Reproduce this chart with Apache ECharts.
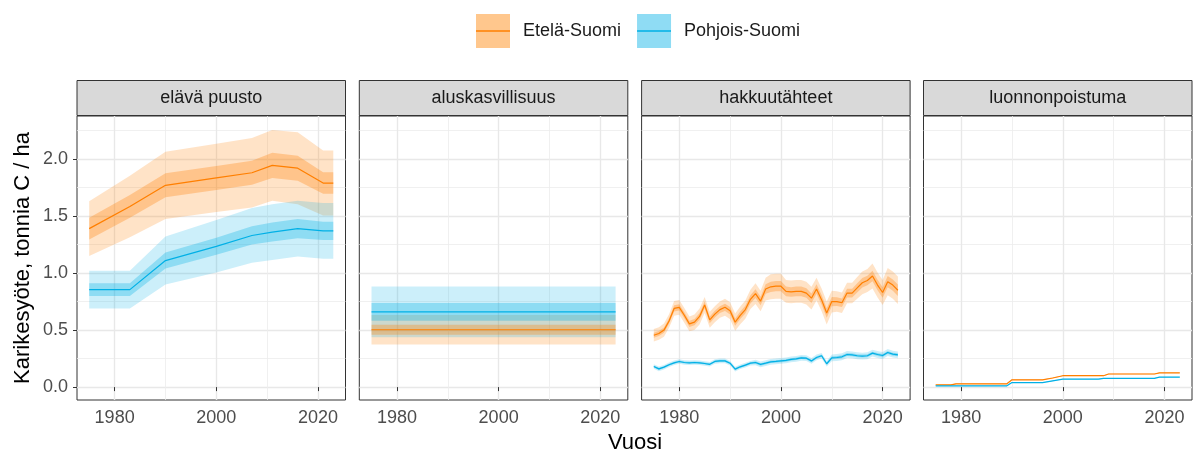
<!DOCTYPE html>
<html>
<head>
<meta charset="utf-8">
<title>Karikesyöte</title>
<script src="https://cdn.jsdelivr.net/npm/echarts@6/dist/echarts.min.js"></script>
<style>
  html, body { margin: 0; padding: 0; background: #fff; }
  #chart { width: 1194px; height: 457px; }
</style>
</head>
<body>
<div id="chart"></div>
<script>
  // paneelit ja alueet
  const panelNames = ['elävä puusto', 'aluskasvillisuus', 'hakkuutähteet', 'luonnonpoistuma'];
  const regions = ['Etelä-Suomi', 'Pohjois-Suomi'];
  const xTicks = [1980, 2000, 2020];
  const yTicks = [0, 0.5, 1, 1.5, 2];

  // elävä puusto (keskiarvo, sisempi ja ulompi puolileveys)
  const elavaYears = [1975, 1983, 1990, 2000, 2007, 2011, 2016, 2021, 2023];
  const elavaEtela = [1.39, 1.585, 1.77, 1.835, 1.88, 1.945, 1.92, 1.79, 1.79];
  const elavaEtelaInner = [0.095, 0.10, 0.105, 0.105, 0.105, 0.11, 0.11, 0.095, 0.095];
  const elavaEtelaOuter = [0.24, 0.27, 0.295, 0.30, 0.305, 0.31, 0.315, 0.285, 0.285];
  const elavaPohjois = [0.855, 0.855, 1.11, 1.235, 1.33, 1.36, 1.39, 1.37, 1.37];
  const elavaPohjoisInner = [0.055, 0.055, 0.07, 0.075, 0.08, 0.083, 0.085, 0.08, 0.08];
  const elavaPohjoisOuter = [0.165, 0.165, 0.21, 0.23, 0.24, 0.245, 0.245, 0.245, 0.245];

  // aluskasvillisuus
  const alusYears = [1975, 2023];
  const alusEtela = [0.503, 0.503];
  const alusEtelaInner = [0.043, 0.043];
  const alusEtelaOuter = [0.13, 0.13];
  const alusPohjois = [0.66, 0.66];
  const alusPohjoisInner = [0.077, 0.077];
  const alusPohjoisOuter = [0.222, 0.222];

  // hakkuutähteet
  const hakkuuYears = [1975, 1976, 1977, 1978, 1979, 1980, 1981, 1982, 1983, 1984,
    1985, 1986, 1987, 1988, 1989, 1990, 1991, 1992, 1993, 1994,
    1995, 1996, 1997, 1998, 1999, 2000, 2001, 2002, 2003, 2004,
    2005, 2006, 2007, 2008, 2009, 2010, 2011, 2012, 2013, 2014,
    2015, 2016, 2017, 2018, 2019, 2020, 2021, 2022, 2023];
  const hakkuuEtela = [0.455, 0.47, 0.50, 0.58, 0.69, 0.70, 0.63, 0.555, 0.57, 0.62,
    0.72, 0.59, 0.64, 0.68, 0.70, 0.67, 0.57, 0.63, 0.68, 0.77,
    0.82, 0.755, 0.86, 0.88, 0.885, 0.885, 0.84, 0.835, 0.84, 0.84,
    0.825, 0.78, 0.86, 0.765, 0.65, 0.75, 0.75, 0.74, 0.825, 0.825,
    0.87, 0.915, 0.935, 0.975, 0.895, 0.83, 0.925, 0.895, 0.85];
  const hakkuuEtelaInner = [0.022, 0.022, 0.024, 0.025, 0.027, 0.027, 0.027, 0.027, 0.028, 0.03,
    0.03, 0.03, 0.03, 0.03, 0.032, 0.032, 0.032, 0.033, 0.034, 0.036,
    0.038, 0.038, 0.042, 0.045, 0.045, 0.045, 0.042, 0.042, 0.042, 0.042,
    0.042, 0.042, 0.042, 0.042, 0.042, 0.04, 0.038, 0.038, 0.038, 0.038,
    0.04, 0.042, 0.042, 0.046, 0.046, 0.046, 0.05, 0.05, 0.05];
  const hakkuuEtelaOuter = [0.055, 0.055, 0.058, 0.06, 0.065, 0.065, 0.065, 0.065, 0.068, 0.07,
    0.07, 0.07, 0.07, 0.072, 0.075, 0.075, 0.075, 0.078, 0.08, 0.085,
    0.09, 0.09, 0.10, 0.11, 0.11, 0.11, 0.10, 0.10, 0.10, 0.10,
    0.10, 0.10, 0.10, 0.10, 0.10, 0.095, 0.09, 0.09, 0.09, 0.09,
    0.095, 0.10, 0.10, 0.11, 0.11, 0.11, 0.12, 0.12, 0.12];
  const hakkuuPohjois = [0.181, 0.16, 0.175, 0.196, 0.213, 0.225, 0.216, 0.213, 0.216, 0.213,
    0.207, 0.20, 0.225, 0.23, 0.23, 0.21, 0.158, 0.178, 0.193, 0.21,
    0.216, 0.199, 0.21, 0.222, 0.225, 0.23, 0.234, 0.243, 0.248, 0.257,
    0.254, 0.23, 0.26, 0.275, 0.205, 0.257, 0.26, 0.266, 0.286, 0.283,
    0.275, 0.272, 0.275, 0.298, 0.286, 0.277, 0.304, 0.289, 0.283];
  const hakkuuPohjoisInner = [0.009, 0.009, 0.009, 0.009, 0.009, 0.009, 0.009, 0.009, 0.009, 0.009,
    0.009, 0.009, 0.009, 0.009, 0.009, 0.009, 0.009, 0.009, 0.009, 0.009,
    0.011, 0.011, 0.011, 0.011, 0.011, 0.011, 0.011, 0.011, 0.011, 0.011,
    0.011, 0.011, 0.011, 0.011, 0.011, 0.013, 0.013, 0.013, 0.013, 0.013,
    0.013, 0.013, 0.013, 0.013, 0.013, 0.013, 0.013, 0.013, 0.013];
  const hakkuuPohjoisOuter = [0.02, 0.02, 0.02, 0.02, 0.02, 0.02, 0.02, 0.02, 0.02, 0.02,
    0.02, 0.02, 0.02, 0.02, 0.02, 0.02, 0.02, 0.02, 0.02, 0.02,
    0.025, 0.025, 0.025, 0.025, 0.025, 0.025, 0.025, 0.025, 0.025, 0.025,
    0.025, 0.025, 0.025, 0.025, 0.025, 0.03, 0.03, 0.03, 0.03, 0.03,
    0.03, 0.03, 0.03, 0.03, 0.03, 0.03, 0.03, 0.03, 0.03];

  // luonnonpoistuma
  const luontoYears = [1975, 1978, 1979, 1989, 1990, 1996, 1998, 2000, 2007, 2008, 2009, 2018, 2019, 2023];
  const luontoEtela = [0.02, 0.02, 0.029, 0.029, 0.064, 0.064, 0.08, 0.10, 0.10, 0.10, 0.115, 0.115, 0.125, 0.125];
  const luontoEtelaInner = [0.002, 0.002, 0.002, 0.002, 0.002, 0.002, 0.002, 0.002, 0.002, 0.002, 0.002, 0.002, 0.002, 0.002];
  const luontoEtelaOuter = [0.004, 0.004, 0.004, 0.004, 0.004, 0.004, 0.004, 0.004, 0.004, 0.004, 0.004, 0.004, 0.004, 0.004];
  const luontoPohjois = [0.011, 0.011, 0.011, 0.011, 0.04, 0.04, 0.055, 0.07, 0.07, 0.076, 0.076, 0.076, 0.087, 0.087];
  const luontoPohjoisInner = [0.001, 0.001, 0.001, 0.001, 0.001, 0.001, 0.001, 0.001, 0.001, 0.001, 0.001, 0.001, 0.001, 0.001];
  const luontoPohjoisOuter = [0.003, 0.003, 0.003, 0.003, 0.003, 0.003, 0.003, 0.003, 0.003, 0.003, 0.003, 0.003, 0.003, 0.003];

  const panels = [
    { years: elavaYears, data: [[elavaEtela, elavaEtelaInner, elavaEtelaOuter], [elavaPohjois, elavaPohjoisInner, elavaPohjoisOuter]] },
    { years: alusYears, data: [[alusEtela, alusEtelaInner, alusEtelaOuter], [alusPohjois, alusPohjoisInner, alusPohjoisOuter]] },
    { years: hakkuuYears, data: [[hakkuuEtela, hakkuuEtelaInner, hakkuuEtelaOuter], [hakkuuPohjois, hakkuuPohjoisInner, hakkuuPohjoisOuter]] },
    { years: luontoYears, data: [[luontoEtela, luontoEtelaInner, luontoEtelaOuter], [luontoPohjois, luontoPohjoisInner, luontoPohjoisOuter]] }
  ];

  const lineColors = ['#FF7F00', '#00B0E6'];
  const outerFill = ['rgba(255,127,0,0.22)', 'rgba(0,176,230,0.2)'];
  const innerFill = ['rgba(255,127,0,0.3)', 'rgba(0,176,230,0.3)'];
  const keyFill = ['#FFC78D', '#8FDCF4'];
  const FONT = 'Liberation Sans';

  // paneelien sijainnit
  const panelLeft = [77, 359.3, 641.6, 923.5];
  const panelWidth = 268.5;
  const plotTop = 116;
  const plotHeight = 284;
  const stripTop = 80.5;
  const stripHeight = 35;

  // nauha (ribbon) piirretään monikulmiona akselien kautta
  function ribbon(pi, years, mean, hw, color) {
    return {
      type: 'custom', xAxisIndex: pi, yAxisIndex: pi, silent: true, z: 2,
      data: [[years[0], mean[0]]],
      renderItem: function (params, api) {
        const pts = [];
        for (let i = 0; i < years.length; i++) pts.push(api.coord([years[i], mean[i] + hw[i]]));
        for (let i = years.length - 1; i >= 0; i--) pts.push(api.coord([years[i], mean[i] - hw[i]]));
        return { type: 'polygon', shape: { points: pts }, style: { fill: color } };
      }
    };
  }

  const grids = [], xAxes = [], yAxes = [], series = [], graphics = [];
  panels.forEach(function (p, pi) {
    grids.push({ left: panelLeft[pi], top: plotTop, width: panelWidth, height: plotHeight,
      show: true, borderColor: '#333333', borderWidth: 1, backgroundColor: '#fff' });
    xAxes.push({
      type: 'value', gridIndex: pi, min: 1972.6, max: 2025.4, splitNumber: 3,
      axisLine: { show: false },
      axisTick: { show: true, customValues: xTicks, length: 4, lineStyle: { color: '#333333', width: 1 } },
      axisLabel: { customValues: xTicks, color: '#4D4D4D', fontSize: 18, fontFamily: FONT, margin: 9,
        formatter: function (v) { return String(v); } },
      splitLine: { show: true, lineStyle: { color: '#E8E8E8', width: 1.4 } },
      minorTick: { show: false, splitNumber: 2 },
      minorSplitLine: { show: true, lineStyle: { color: '#ECECEC', width: 0.8 } }
    });
    yAxes.push({
      type: 'value', gridIndex: pi, min: -0.113, max: 2.378, splitNumber: 5,
      name: pi === 0 ? 'Karikesyöte, tonnia C / ha' : '',
      nameLocation: 'middle', nameGap: 43,
      nameTextStyle: { fontSize: 22, color: '#000', fontFamily: FONT },
      axisLine: { show: false },
      axisTick: { show: pi === 0, customValues: yTicks, length: 4, lineStyle: { color: '#333333', width: 1 } },
      axisLabel: { show: pi === 0, customValues: yTicks, color: '#4D4D4D', fontSize: 18, fontFamily: FONT, margin: 9,
        formatter: function (v) { return v.toFixed(1); } },
      splitLine: { show: true, lineStyle: { color: '#E8E8E8', width: 1.4 } },
      minorTick: { show: false, splitNumber: 2 },
      minorSplitLine: { show: true, lineStyle: { color: '#ECECEC', width: 0.8 } }
    });
    // otsikkonauha
    graphics.push({
      type: 'group', children: [
        { type: 'rect', shape: { x: panelLeft[pi], y: stripTop, width: panelWidth, height: stripHeight },
          style: { fill: '#D9D9D9', stroke: '#333333', lineWidth: 1 } },
        { type: 'text', x: panelLeft[pi] + panelWidth / 2, y: stripTop + stripHeight / 2,
          style: { text: panelNames[pi], align: 'center', verticalAlign: 'middle', fill: '#1A1A1A', font: '18px "' + FONT + '"' } }
      ]
    });
  });

  // ulommat nauhat, sisemmät nauhat, viivat
  panels.forEach(function (p, pi) {
    p.data.forEach(function (d, r) { series.push(ribbon(pi, p.years, d[0], d[2], outerFill[r])); });
  });
  panels.forEach(function (p, pi) {
    p.data.forEach(function (d, r) { series.push(ribbon(pi, p.years, d[0], d[1], innerFill[r])); });
  });
  panels.forEach(function (p, pi) {
    p.data.forEach(function (d, r) {
      series.push({
        type: 'line', name: regions[r], xAxisIndex: pi, yAxisIndex: pi, z: 3,
        data: p.years.map(function (y, i) { return [y, d[0][i]]; }),
        showSymbol: false, symbol: 'none', silent: true,
        lineStyle: { color: lineColors[r], width: 1.2 },
        itemStyle: { color: lineColors[r] }
      });
    });
  });

  graphics.push({
    type: 'text', x: 635, y: 443,
    style: { text: 'Vuosi', align: 'center', verticalAlign: 'middle', fill: '#000', font: '22px "' + FONT + '"' }
  });

  const legendBase = {
    orient: 'horizontal', left: 471, itemWidth: 34, itemGap: 16, selectedMode: false
  };

  const chart = echarts.init(document.getElementById('chart'));
  chart.setOption({
    animation: false,
    backgroundColor: '#fff',
    legend: [
      Object.assign({}, legendBase, {
        top: 9, itemHeight: 34, icon: 'rect',
        textStyle: { fontSize: 18, color: '#1A1A1A', fontFamily: FONT, padding: [0, 0, 0, 8] },
        data: regions.map(function (n, r) { return { name: n, itemStyle: { color: keyFill[r] } }; })
      }),
      Object.assign({}, legendBase, {
        top: 17, itemHeight: 1.4, icon: 'rect',
        textStyle: { fontSize: 18, color: 'rgba(0,0,0,0)', fontFamily: FONT, padding: [0, 0, 0, 8] },
        data: regions.map(function (n, r) { return { name: n, itemStyle: { color: lineColors[r] } }; })
      })
    ],
    grid: grids,
    xAxis: xAxes,
    yAxis: yAxes,
    series: series,
    graphic: graphics
  });
</script>
</body>
</html>
